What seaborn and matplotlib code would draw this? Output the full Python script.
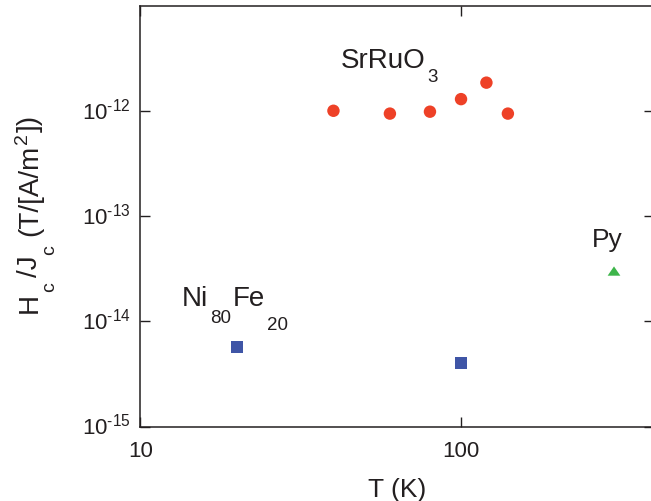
import numpy as np
import pandas as pd
import matplotlib
matplotlib.use("Agg")
import matplotlib.pyplot as plt
import matplotlib.ticker as mticker
import matplotlib.transforms as mtransforms
import seaborn as sns

# values
srruo3_T = [40, 60, 80, 100, 120, 140]
srruo3_ratio = [1.0e-12, 0.94e-12, 0.98e-12, 1.29e-12, 1.85e-12, 0.94e-12]
nife_T = [20, 100]
nife_ratio = [5.7e-15, 4.0e-15]
py_T = [300]
py_ratio = [3.0e-14]

x_ticks = [10, 100]
x_ticklabels = ["10", "100"]
y_ticks = [1e-15, 1e-14, 1e-13, 1e-12]
y_ticklabels = [r"$\mathregular{10^{‐15}}$", r"$\mathregular{10^{‐14}}$",
                r"$\mathregular{10^{‐13}}$", r"$\mathregular{10^{‐12}}$"]

df = pd.DataFrame({
    "T": srruo3_T + nife_T + py_T,
    "ratio": srruo3_ratio + nife_ratio + py_ratio,
    "material": ["SrRuO3"] * len(srruo3_T) + ["NiFe"] * len(nife_T) + ["Py"] * len(py_T),
})

sns.set_style("ticks")
plt.rcParams["font.family"] = ["Liberation Sans", "DejaVu Sans"]
plt.rcParams["mathtext.fontset"] = "custom"
plt.rcParams["mathtext.rm"] = "Liberation Sans"
plt.rcParams["mathtext.it"] = "Liberation Sans"
text_col = "#231f20"

fig = plt.figure(figsize=(6.51, 5.02), dpi=100)
ax = fig.add_axes([0.2157, 0.1484, 0.789, 0.8386])

palette = {"SrRuO3": "#ee4127", "NiFe": "#3f55a6", "Py": "#3db54a"}
tri = [(-1, -0.73), (1, -0.73), (0, 0.73)]
markers = {"SrRuO3": "o", "NiFe": "s", "Py": tri}
sizes = {"SrRuO3": 80, "NiFe": 82, "Py": 84}
for mat in ["SrRuO3", "NiFe", "Py"]:
    sub = df[df["material"] == mat]
    sns.scatterplot(data=sub, x="T", y="ratio", color=palette[mat], marker=markers[mat],
                    s=sizes[mat], edgecolor="none", linewidth=0, ax=ax, legend=False)

ax.set_xscale("log")
ax.set_yscale("log")
ax.set_xlim(10, 400)
ax.set_ylim(1e-15, 1e-11)

ax.xaxis.set_major_locator(mticker.FixedLocator(x_ticks))
ax.xaxis.set_major_formatter(mticker.FixedFormatter(x_ticklabels))
ax.xaxis.set_minor_locator(mticker.NullLocator())
ax.yaxis.set_major_locator(mticker.FixedLocator(y_ticks))
ax.yaxis.set_major_formatter(mticker.FixedFormatter(y_ticklabels))
ax.yaxis.set_minor_locator(mticker.NullLocator())
ax.tick_params(direction="in", length=7, width=1, top=True, right=True,
               labelsize=16, colors=text_col)
ax.tick_params(axis="x", pad=10)
ax.tick_params(axis="y", pad=7)
for sp in ax.spines.values():
    sp.set_linewidth(1.1)
    sp.set_color(text_col)

# nudge y tick labels up a little so the "10" sits on the tick
shift = mtransforms.ScaledTranslation(0, 3 / 100, fig.dpi_scale_trans)
for lab in ax.get_yticklabels():
    lab.set_transform(lab.get_transform() + shift)

ax.set_xlabel("T (K)", fontsize=19, color=text_col, labelpad=11)
ax.set_ylabel("")

renderer = fig.canvas.get_renderer()


def rich_text(x, y, parts, coords="data", rotation=0):
    # parts: (text, fontsize, shift up in px, gap after in px)
    adv = 0
    for s, size, shift, gap in parts:
        off = (adv, shift) if rotation == 0 else (-shift, adv)
        t = ax.annotate(s, xy=(x, y), xycoords=coords, xytext=off,
                        textcoords="offset pixels", fontsize=size, color=text_col,
                        rotation=rotation, rotation_mode="anchor",
                        ha="left", va="baseline", annotation_clip=False)
        bb = t.get_window_extent(renderer)
        adv += (bb.width if rotation == 0 else bb.height) + gap


# y label, drawn piece by piece to get the low subscripts
rich_text(37, 502 - 313, [("H", 20, 0, 1), ("c", 14, -17, 5), ("/J", 20, 0, 1),
                          ("c", 14, -17, 9), ("(T/[A/m", 20, 0, 1), ("2", 14, 10, 1),
                          ("])", 20, 0, 0)],
          coords="figure pixels", rotation=90)

rich_text(42.3, 2.6e-12, [("SrRuO", 20, 0, 1), ("3", 13.5, -14, 0)])
rich_text(13.5, 1.43e-14, [("Ni", 20, 0, 2), ("80", 13.5, -17, 1),
                           ("Fe", 20, 0, 2), ("20", 13.5, -24, 0)])
rich_text(256, 5.19e-14, [("Py", 19, 0, 0)])

fig.savefig("out.png", dpi=100)
